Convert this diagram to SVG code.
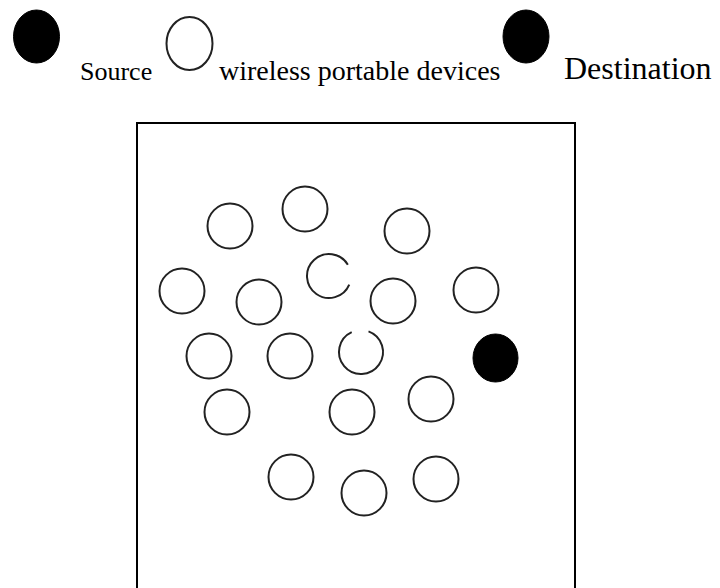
<svg xmlns="http://www.w3.org/2000/svg" width="720" height="588" viewBox="0 0 720 588">
<style>
.dev{fill:none;stroke:#222;stroke-width:2}
.blk{fill:#000;stroke:#000;stroke-width:1}
.lbl{font-family:"Liberation Serif","Times New Roman",serif;fill:#000}
</style>
<rect width="720" height="588" fill="#fff"/>
<g id="legend">
<ellipse class="blk" cx="36.5" cy="36.5" rx="23" ry="26.5"/>
<text class="lbl" x="80" y="80" font-size="26">Source</text>
<ellipse class="dev" cx="189.5" cy="43.5" rx="23" ry="26.5"/>
<text class="lbl" x="219" y="80" font-size="28">wireless portable devices</text>
<ellipse class="blk" cx="526" cy="36.5" rx="23" ry="26.5"/>
<text class="lbl" x="564" y="79" font-size="32">Destination</text>
</g>
<g id="area"><path d="M137,588 V123 H575 V588" fill="none" stroke="#000" stroke-width="2"/></g>
<g id="nodes">
<circle id="n1" class="dev" cx="230" cy="226" r="22.5"/>
<circle id="n2" class="dev" cx="305" cy="209" r="22.5"/>
<circle id="n3" class="dev" cx="407" cy="231" r="22.5"/>
<circle id="n4" class="dev" cx="182" cy="291" r="22.5"/>
<circle id="n5" class="dev" cx="259" cy="302" r="22.5"/>
<path id="n6" class="dev" d="M349.25,284.6 A22,22 0 1 1 347.86,264.67"/>
<circle id="n7" class="dev" cx="393" cy="301" r="22.5"/>
<circle id="n8" class="dev" cx="476" cy="290" r="22.5"/>
<circle id="n9" class="dev" cx="209" cy="356" r="22.5"/>
<circle id="n10" class="dev" cx="290" cy="356" r="22.5"/>
<path id="n11" class="dev" d="M368.52,331.33 A22,22 0 1 1 351.70,332.06"/>
<ellipse id="dest" class="blk" cx="495.5" cy="358" rx="22.5" ry="24"/>
<circle id="n13" class="dev" cx="227" cy="412" r="22.5"/>
<circle id="n14" class="dev" cx="352" cy="412" r="22.5"/>
<circle id="n15" class="dev" cx="431" cy="399" r="22.5"/>
<circle id="n16" class="dev" cx="291" cy="477" r="22.5"/>
<circle id="n17" class="dev" cx="364" cy="493" r="22.5"/>
<circle id="n18" class="dev" cx="436" cy="479" r="22.5"/>
</g>
<g id="connectors"/>
</svg>
